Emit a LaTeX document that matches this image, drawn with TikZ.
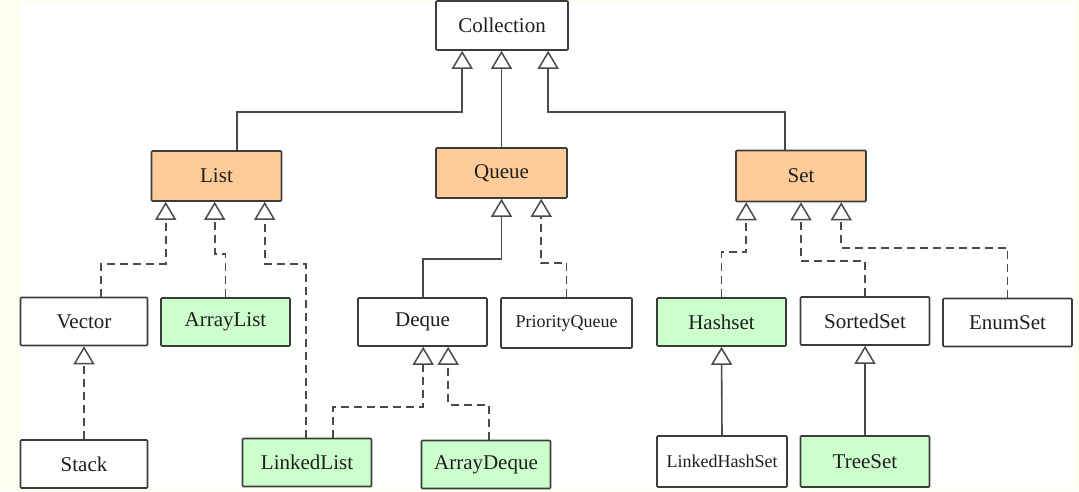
\documentclass[tikz,border=0pt]{standalone}
\usepackage{fontspec}
\setmainfont{Liberation Serif}
\usetikzlibrary{arrows.meta}
\definecolor{cream}{HTML}{FFFFF0}
\definecolor{peach}{HTML}{FFCC99}
\definecolor{mint}{HTML}{CCFFCC}
\definecolor{edge}{HTML}{3C3C3C}
\definecolor{wire}{HTML}{4A4A4A}
\definecolor{ink}{HTML}{1E1E1E}
\tikzset{
  box/.style={draw=edge, line width=1.6pt, fill=white, minimum width=129pt, minimum height=48pt,
    inner sep=0pt, font=\fontsize{21}{25}\selectfont, text=ink, rounded corners=1pt},
  iface/.style={box, fill=peach},
  impl/.style={box, fill=mint},
  small/.style={font=\fontsize{18}{21}\selectfont},
  gen/.style={draw=wire, line width=1.6pt, -{Triangle[open, length=18pt, width=21pt, line width=1.5pt]}},
  real/.style={gen, dash pattern=on 8pt off 5pt},
}
\begin{document}
\begin{tikzpicture}[x=1pt, y=-1pt]
\useasboundingbox (0,0) rectangle (1079,491);
\fill[cream] (0,0) rectangle (1079,491);
\fill[white] (20,2) rectangle (1075,489);

\node[box, minimum width=132pt, minimum height=49pt] (coll) at (502,25.5) {Collection};
\node[iface, minimum width=130pt, minimum height=50pt] (list) at (216.5,176) {List};
\node[iface, minimum width=131pt, minimum height=50pt] (queue) at (501.5,173) {Queue};
\node[iface, minimum width=130pt, minimum height=51pt] (set) at (801,176) {Set};

\node[box, minimum width=127pt] (vector) at (84,321.5) {Vector};
\node[impl] (alist) at (225.5,322) {ArrayList};
\node[box] (deque) at (422.5,322) {Deque};
\node[box, small, minimum width=131pt, minimum height=50pt] (pq) at (566.5,323) {PriorityQueue};
\node[impl] (hset) at (721.5,322) {Hashset};
\node[box] (sset) at (865,321) {SortedSet};
\node[box] (eset) at (1007.5,322.5) {EnumSet};

\node[box, minimum width=127pt] (stack) at (84,464) {Stack};
\node[impl] (llist) at (307,462.5) {LinkedList};
\node[impl] (adeque) at (486,464.5) {ArrayDeque};
\node[box, small, minimum width=130pt, minimum height=51pt] (lhset) at (722,461.5) {LinkedHashSet};
\node[impl, minimum height=51pt] (tset) at (865,461.5) {TreeSet};

% to Collection
\draw[gen] ([xshift=86pt]list.north west) -- ++(0,-38) -| ([xshift=27pt]coll.south west);
\draw[gen] (queue.north) -- (queue.north |- coll.south);
\draw[gen] ([xshift=50pt]set.north west) -- ++(0,-38) -| ([xshift=113pt]coll.south west);

% to List
\draw[real] ([xshift=17pt]vector.north) -- ++(0,-33) -| ([xshift=15pt]list.south west);
\draw[real] (alist.north) -- ++(0,-43) -| ([xshift=64pt]list.south west);
\draw[real] ([xshift=-1pt]llist.north) -- ++(0,-174) -| ([xshift=114pt]list.south west);

% to Queue
\draw[gen] ([xshift=66pt]deque.north west) -- ++(0,-38) -| (queue.south);
\draw[real] (pq.north) -- ++(0,-34) -| ([xshift=106pt]queue.south west);

% to Deque
\draw[real] ([xshift=91pt]llist.north west) -- ++(0,-31) -| ([xshift=66pt]deque.south west);
\draw[real] ([xshift=68pt]adeque.north west) -- ++(0,-35) -| ([xshift=91pt]deque.south west);

% to Vector
\draw[real] (stack.north) -- (vector.south);

% to Set
\draw[real] (hset.north) -- ++(0,-45) -| ([xshift=11pt]set.south west);
\draw[real] (sset.north) -- ++(0,-35) -| (set.south);
\draw[real] (eset.north) -- ++(0,-50) -| ([xshift=106pt]set.south west);

% to Hashset / SortedSet
\draw[gen] (lhset.north) -- (hset.south);
\draw[gen] (tset.north) -- (sset.south);
\end{tikzpicture}
\end{document}
